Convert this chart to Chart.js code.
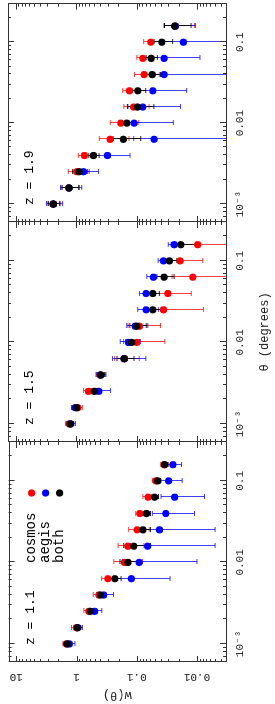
<!DOCTYPE html>
<html>
<head>
<meta charset="utf-8">
<script src="https://cdn.jsdelivr.net/npm/chart.js@4.4.1/dist/chart.umd.min.js"></script>
<style>
html, body { margin: 0; padding: 0; background: #fff; overflow: hidden; }
#wrap { position: absolute; left: 0; top: 0; width: 704px; height: 275px;
        transform-origin: 0 0; transform: translate(0px, 704px) rotate(-90deg); }
#wrap canvas { position: absolute; top: 0; }
</style>
</head>
<body>
<div id="wrap">
  <canvas id="p11" width="270" height="275" style="left:0px"></canvas>
  <canvas id="p15" width="236" height="275" style="left:254px"></canvas>
  <canvas id="p19" width="230" height="275" style="left:474px"></canvas>
</div>
<script>
/* DATA */
var theta = [0.001, 0.00158, 0.00251, 0.00398, 0.00631, 0.01, 0.0158, 0.0251, 0.0398, 0.0631, 0.1, 0.158];

// z = 1.1
var cosmos11    = [1.48, 1.01, 0.625, 0.427, 0.303, 0.160, 0.140, 0.099, 0.089, 0.065, 0.048, 0.035];
var cosmos11Err = [0.2, 0.2, 0.13, 0.1, 0.08, 0.08, 0.064, 0.037, 0.015, 0.014, 0.007, 0.005];
var aegis11     = [1.31, 0.95, 0.50, 0.353, 0.123, 0.091, 0.066, 0.042, 0.033, 0.0235, 0.0296, 0.0251];
var aegis11Err  = [0.25, 0.15, 0.12, 0.11, 0.095, 0.081, 0.061, 0.037, 0.022, 0.016, 0.012, 0.007];
var both11      = [1.43, 0.97, 0.59, 0.40, 0.232, 0.14, 0.112, 0.079, 0.069, 0.0505, 0.045, 0.0345];
var both11Err   = [0.15, 0.1, 0.06, 0.05, 0.05, 0.05, 0.053, 0.02, 0.01, 0.007, 0.005, 0.004];

// z = 1.5
var cosmos15    = [1.29, 0.938, 0.625, 0.40, 0.160, 0.099, 0.089, 0.0358, 0.0304, 0.0117, 0.019, 0.0097];
var cosmos15Err = [0.2, 0.15, 0.13, 0.07, 0.07, 0.065, 0.049, 0.028, 0.018, 0.014, 0.011, 0.008];
var aegis15     = [1.225, 1.04, 0.42, 0.39, 0.160, 0.136, 0.105, 0.0694, 0.0694, 0.0525, 0.0358, 0.0238];
var aegis15Err  = [0.2, 0.15, 0.15, 0.07, 0.09, 0.05, 0.04, 0.026, 0.02, 0.015, 0.008, 0.006];
var both15      = [1.257, 0.977, 0.497, 0.39, 0.160, 0.12, 0.099, 0.0538, 0.0538, 0.0349, 0.0285, 0.0185];
var both15Err   = [0.15, 0.1, 0.07, 0.05, 0.05, 0.03, 0.03, 0.015, 0.012, 0.011, 0.007, 0.008];

// z = 1.9
var cosmos19    = [2.43, 1.33, 0.975, 0.728, 0.273, 0.182, 0.112, 0.131, 0.075, 0.0787, 0.058, 0.0229];
var cosmos19Err = [0.6, 0.45, 0.37, 0.19, 0.14, 0.09, 0.05, 0.038, 0.033, 0.02, 0.018, 0.012];
var aegis19     = [2.37, 1.306, 0.756, 0.303, 0.0511, 0.1096, 0.0787, 0.0538, 0.0349, 0.0349, 0.0167, 0.0226];
var aegis19Err  = [0.7, 0.5, 0.33, 0.175, 0.06, 0.085, 0.06, 0.039, 0.04, 0.026, 0.02, 0.012];
var both19      = [2.37, 1.306, 0.892, 0.516, 0.165, 0.145, 0.0966, 0.0953, 0.0551, 0.0572, 0.0382, 0.0235];
var both19Err   = [0.5, 0.4, 0.25, 0.1, 0.08, 0.04, 0.045, 0.025, 0.015, 0.012, 0.013, 0.011];

var thetaTicks      = [0.001, 0.01, 0.1];
var thetaTickLabels = ['10\u207B\u00B3', '0.01', '0.1'];
var wTicks          = [0.01, 0.1, 1, 10];
var wTickLabels     = ['0.01', '0.1', '1', '10'];
var seriesNames     = ['cosmos', 'aegis', 'both'];
/* DATA */

var MONO = '"Liberation Mono", "DejaVu Sans Mono", monospace';

function logTicks(min, max) {
    var out = [];
    for (var e = Math.floor(Math.log10(min)); e <= Math.ceil(Math.log10(max)); e++) {
        for (var k = 1; k < 10; k++) {
            var v = k * Math.pow(10, e);
            if (v >= min && v <= max) out.push({ v: v, major: k === 1 });
        }
    }
    return out;
}

// box round each panel with inward ticks on all four sides
var frameTicks = {
    id: 'frameTicks',
    afterDatasetsDraw: function(chart) {
        var a = chart.chartArea, ctx = chart.ctx, sx = chart.scales.x, sy = chart.scales.y;
        ctx.save();
        ctx.strokeStyle = '#333';
        ctx.lineWidth = 1;
        ctx.beginPath();
        logTicks(sx.min, sx.max).forEach(function(t) {
            var px = Math.round(sx.getPixelForValue(t.v)) + 0.5, len = t.major ? 6 : 3;
            ctx.moveTo(px, a.bottom); ctx.lineTo(px, a.bottom - len);
            ctx.moveTo(px, a.top); ctx.lineTo(px, a.top + len);
        });
        logTicks(sy.min, sy.max).forEach(function(t) {
            var py = Math.round(sy.getPixelForValue(t.v)) + 0.5, len = t.major ? 6 : 3;
            ctx.moveTo(a.left, py); ctx.lineTo(a.left + len, py);
            ctx.moveTo(a.right, py); ctx.lineTo(a.right - len, py);
        });
        ctx.stroke();
        ctx.strokeRect(Math.round(a.left) + 0.5, Math.round(a.top) + 0.5,
                       Math.round(a.right - a.left), Math.round(a.bottom - a.top));
        ctx.restore();
    }
};

// error bars in w, under the points
var errorBars = {
    id: 'errorBars',
    beforeDatasetsDraw: function(chart) {
        var a = chart.chartArea, ctx = chart.ctx, sx = chart.scales.x, sy = chart.scales.y;
        ctx.save();
        ctx.beginPath();
        ctx.rect(a.left, a.top, a.right - a.left, a.bottom - a.top);
        ctx.clip();
        ctx.lineWidth = 1;
        chart.data.datasets.slice().reverse().forEach(function(ds) {
            ctx.strokeStyle = ds.barColor;
            ds.data.forEach(function(p) {
                var px = Math.round(sx.getPixelForValue(p.x)) + 0.5;
                var hi = sy.getPixelForValue(p.y + p.e);
                var lowVal = p.y - p.e;
                var lo = lowVal > 0 ? sy.getPixelForValue(lowVal) : a.bottom + 2;
                ctx.beginPath();
                ctx.moveTo(px, hi); ctx.lineTo(px, lo);
                ctx.moveTo(px - 2.5, hi); ctx.lineTo(px + 2.5, hi);
                if (lowVal > 0) { ctx.moveTo(px - 2.5, lo); ctx.lineTo(px + 2.5, lo); }
                ctx.stroke();
            });
        });
        ctx.restore();
    }
};

function panelText(zText, withLegend) {
    return {
        id: 'panelText',
        afterDraw: function(chart) {
            var a = chart.chartArea, ctx = chart.ctx;
            ctx.save();
            ctx.fillStyle = '#000';
            ctx.textBaseline = 'middle';
            ctx.font = '13px ' + MONO;
            ctx.fillText('z = ' + zText, a.left + 17, a.top + 22);
            if (withLegend) {
                ctx.font = '14px ' + MONO;
                // datasets are stored both, aegis, cosmos
                var ds = chart.data.datasets.slice().reverse();
                ds.forEach(function(d, i) {
                    var y = a.top + 23 + i * 14;
                    ctx.fillStyle = '#000';
                    ctx.fillText(d.label, a.left + 99, y);
                    ctx.fillStyle = d.backgroundColor;
                    ctx.beginPath();
                    ctx.arc(a.left + 169, y, 3.6, 0, Math.PI * 2);
                    ctx.fill();
                });
            }
            ctx.restore();
        }
    };
}

function pts(vals, errs) {
    return theta.map(function(t, i) { return { x: t, y: vals[i], e: errs[i] }; });
}

function makeDatasets(c, ce, a, ae, b, be) {
    return [
        { label: seriesNames[2], data: pts(b, be), backgroundColor: '#000000', barColor: 'rgba(0,0,0,0.85)', order: 0 },
        { label: seriesNames[1], data: pts(a, ae), backgroundColor: '#0000ff', barColor: 'rgba(0,0,255,0.75)', order: 1 },
        { label: seriesNames[0], data: pts(c, ce), backgroundColor: '#ff0000', barColor: 'rgba(255,0,0,0.75)', order: 2 }
    ];
}

function makePanel(id, zText, datasets, opt) {
    var ctx = document.getElementById(id).getContext('2d');
    var yScale = {
        type: 'logarithmic', min: 0.0033, max: 13.4,
        display: opt.yAxis,
        afterBuildTicks: function(s) { s.ticks = wTicks.map(function(v) { return { value: v }; }); },
        grid: { display: false, drawTicks: false },
        border: { display: false },
        ticks: {
            color: '#222', padding: 2, minRotation: 90, maxRotation: 90, crossAlign: 'center',
            autoSkip: false, font: { family: MONO, size: 11 },
            callback: function(v, i) { return wTickLabels[i]; }
        },
        title: {
            display: opt.yAxis, text: 'w(\u03B8)', color: '#222',
            font: { family: MONO, size: 12 }, padding: 2
        }
    };
    if (opt.yAxis) yScale.afterFit = function(s) { s.width = 42; };

    return new Chart(ctx, {
        type: 'scatter',
        data: { datasets: datasets },
        options: {
            responsive: false,
            animation: false,
            devicePixelRatio: 1,
            elements: { point: { radius: 3.6, borderWidth: 0, hoverRadius: 3.6 } },
            layout: { padding: { top: 8, left: opt.padLeft, right: opt.padRight, bottom: 0 } },
            plugins: { legend: { display: false }, tooltip: { enabled: false } },
            scales: {
                x: {
                    type: 'logarithmic', min: 6.0e-4, max: 0.30,
                    afterBuildTicks: function(s) { s.ticks = thetaTicks.map(function(v) { return { value: v }; }); },
                    afterFit: function(s) { s.height = 49; },
                    grid: { display: false, drawTicks: false },
                    border: { display: false },
                    ticks: {
                        color: '#222', padding: 7, maxRotation: 0, autoSkip: false,
                        font: { family: MONO, size: 11 },
                        callback: function(v, i) { return thetaTickLabels[i]; }
                    },
                    title: {
                        display: opt.xTitle, text: '\u03B8 (degrees)', color: '#222',
                        font: { family: MONO, size: 12 }, padding: { top: 0, bottom: 3 }
                    }
                },
                y: yScale
            }
        },
        plugins: [errorBars, frameTicks, panelText(zText, opt.legend)]
    });
}

window.onload = function() {
    makePanel('p11', '1.1', makeDatasets(cosmos11, cosmos11Err, aegis11, aegis11Err, both11, both11Err),
        { padLeft: 0, padRight: 8, xTitle: false, yAxis: true, legend: true });
    makePanel('p15', '1.5', makeDatasets(cosmos15, cosmos15Err, aegis15, aegis15Err, both15, both15Err),
        { padLeft: 8, padRight: 8, xTitle: true, yAxis: false, legend: false });
    makePanel('p19', '1.9', makeDatasets(cosmos19, cosmos19Err, aegis19, aegis19Err, both19, both19Err),
        { padLeft: 8, padRight: 1, xTitle: false, yAxis: false, legend: false });
};
</script>
</body>
</html>
